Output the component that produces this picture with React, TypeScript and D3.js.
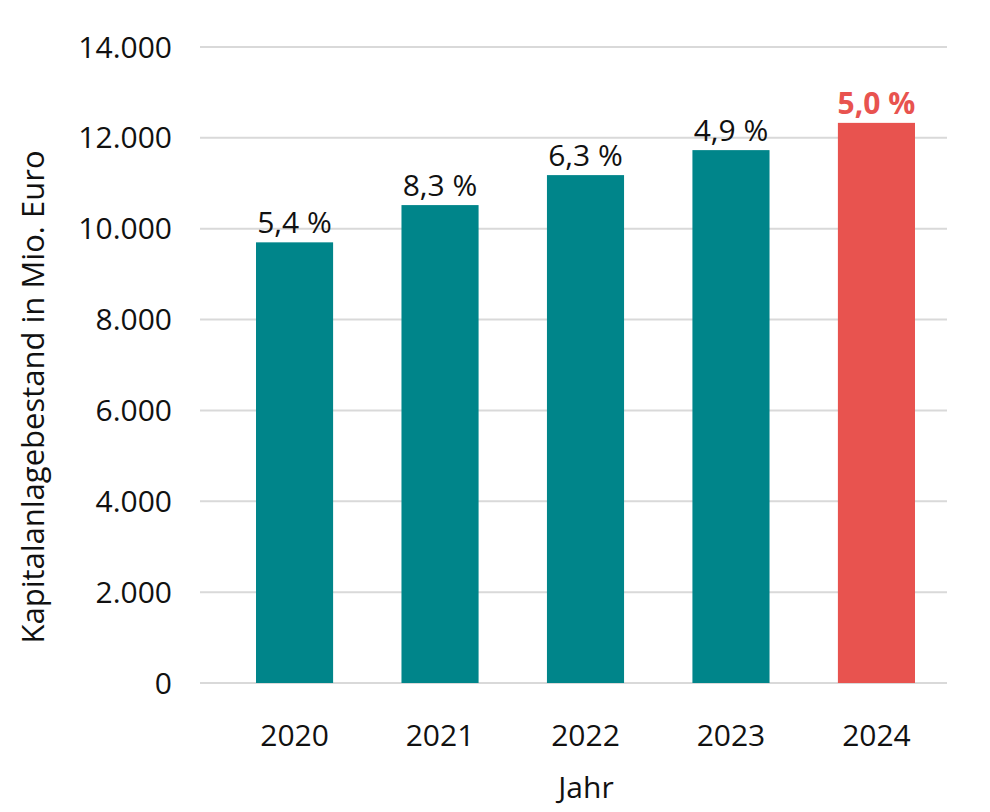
import { useEffect, useRef } from "react";
import * as d3 from "d3";

const years = ["2020", "2021", "2022", "2023", "2024"];
const values = [9700, 10520, 11180, 11730, 12330];
const growth = ["5,4 %", "8,3 %", "6,3 %", "4,9 %", "5,0 %"];
const yTicks = [0, 2000, 4000, 6000, 8000, 10000, 12000, 14000];

const TEAL = "#00858a";
const RED = "#e8534f";
const FONT = "'Open Sans', 'Noto Sans', sans-serif";

export default function App() {
  const svgRef = useRef<SVGSVGElement>(null);

  useEffect(() => {
    if (!svgRef.current) return;
    const width = 990;
    const height = 812;
    const margin = { top: 47, right: 43, bottom: 129, left: 200 };
    const innerW = width - margin.left - margin.right;
    const innerH = height - margin.top - margin.bottom;

    const svg = d3.select(svgRef.current);
    svg.selectAll("*").remove();

    const g = svg
      .append("g")
      .attr("transform", `translate(${margin.left},${margin.top})`);

    const x = d3.scaleBand().domain(years).range([56, 715]).paddingInner(0.47).paddingOuter(0);
    const y = d3.scaleLinear().domain([0, 14000]).range([innerH, 0]);

    // Grid
    g.selectAll("line.grid")
      .data(yTicks)
      .join("line")
      .attr("class", "grid")
      .attr("x1", 0)
      .attr("x2", innerW)
      .attr("y1", (d) => y(d))
      .attr("y2", (d) => y(d))
      .attr("stroke", "#d9d9d9")
      .attr("stroke-width", 2);

    // Y tick labels
    g.selectAll("text.ytick")
      .data(yTicks)
      .join("text")
      .attr("class", "ytick")
      .attr("x", -28)
      .attr("y", (d) => y(d))
      .attr("dy", "0.35em")
      .attr("text-anchor", "end")
      .attr("font-family", FONT)
      .attr("font-size", 30)
      .attr("fill", "#111")
      .text((d) => d3.format(",")(d).replace(/,/g, "."));

    // Bars
    g.selectAll("rect.bar")
      .data(values)
      .join("rect")
      .attr("class", "bar")
      .attr("x", (_, i) => x(years[i])!)
      .attr("width", x.bandwidth())
      .attr("y", (d) => y(d))
      .attr("height", (d) => innerH - y(d))
      .attr("fill", (_, i) => (i === years.length - 1 ? RED : TEAL));

    // Value labels
    g.selectAll("text.val")
      .data(values)
      .join("text")
      .attr("class", "val")
      .attr("x", (_, i) => x(years[i])! + x.bandwidth() / 2)
      .attr("y", (d) => y(d) - 9)
      .attr("text-anchor", "middle")
      .attr("font-family", FONT)
      .attr("font-size", 30)
      .attr("font-weight", (_, i) => (i === years.length - 1 ? 700 : 400))
      .attr("fill", (_, i) => (i === years.length - 1 ? RED : "#111"))
      .text((_, i) => growth[i]);

    // X tick labels
    g.selectAll("text.xtick")
      .data(years)
      .join("text")
      .attr("class", "xtick")
      .attr("x", (d) => x(d)! + x.bandwidth() / 2)
      .attr("y", innerH + 52)
      .attr("dy", "0.35em")
      .attr("text-anchor", "middle")
      .attr("font-family", FONT)
      .attr("font-size", 30)
      .attr("fill", "#111")
      .text((d) => d);

    // Axis titles
    svg
      .append("text")
      .attr("x", 586)
      .attr("y", 787)
      .attr("dy", "0.35em")
      .attr("text-anchor", "middle")
      .attr("font-family", FONT)
      .attr("font-size", 30)
      .attr("fill", "#111")
      .text("Jahr");

    svg
      .append("text")
      .attr("transform", `translate(33,${margin.top + innerH / 2 + 32}) rotate(-90)`)
      .attr("dy", "0.35em")
      .attr("text-anchor", "middle")
      .attr("font-family", FONT)
      .attr("font-size", 31)
      .attr("fill", "#111")
      .text("Kapitalanlagebestand in Mio. Euro");
  }, []);

  return (
    <div style={{ position: "absolute", left: 0, top: 0, background: "#fff" }}>
      <svg ref={svgRef} width={990} height={812} viewBox="0 0 990 812" />
    </div>
  );
}
